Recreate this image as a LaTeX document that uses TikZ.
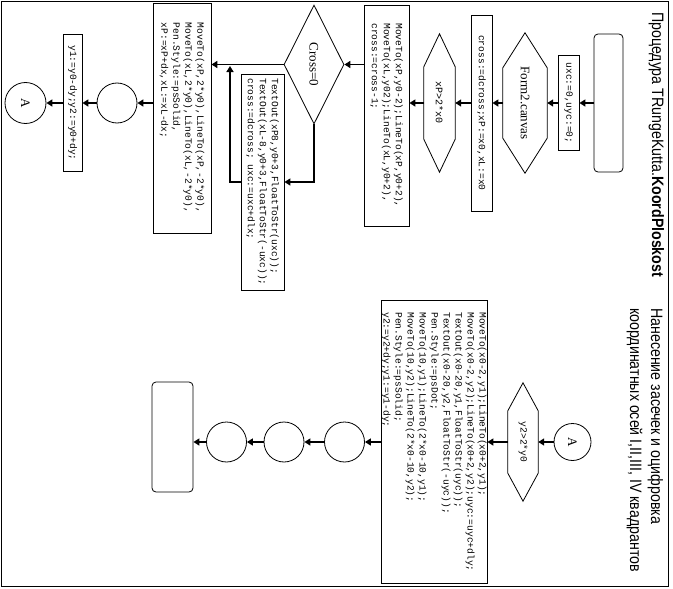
\documentclass[tikz,border=0pt]{standalone}
\usepackage{fontspec}
\setmainfont{Liberation Serif}
\newfontfamily\codefont{Liberation Mono}
\newfontfamily\titlefont[FakeStretch=0.86]{Liberation Sans}
\usetikzlibrary{shapes.geometric,arrows.meta,calc}
\newcommand\hexdraw[2]{\draw[line width=0.8pt] (#1.west) -- ($(#1.north west)+(#2,0)$) -- ($(#1.north east)+(-#2,0)$) -- (#1.east) -- ($(#1.south east)+(-#2,0)$) -- ($(#1.south west)+(#2,0)$) -- cycle;}
\tikzset{
  box/.style={draw, line width=0.8pt, inner sep=0pt, align=left, font=\codefont\fontsize{9.6}{12}\selectfont},
  term/.style={draw, line width=0.8pt, rounded corners=4pt, inner sep=0pt},
  hexn/.style={inner sep=0pt},
  circ/.style={circle, draw, line width=0.8pt, minimum size=40, inner sep=0pt, font=\fontsize{13}{13}\selectfont},
  titlef/.style={inner sep=0pt, font=\titlefont\fontsize{16.5}{20}\selectfont},
  arr/.style={line width=1.8pt, -{Triangle[length=6pt,width=7pt]}}
}
\begin{document}
\begin{tikzpicture}[x=1pt,y=1pt]
\useasboundingbox (0,0) rectangle (673,-589);
\draw[line width=1pt] (1.5,-1.5) rectangle (668.5,-586);
\begin{scope}[rotate=-90, transform shape]
% titles
\node[titlef, anchor=base west] (ti1) at (12,652) {Процедура TRungeKutta.\textbf{KoordPloskost}};
\node[titlef, anchor=base west] (ti2) at (308,651) {Нанесение засечек и оцифровка};
\node[titlef, anchor=base west] (ti3) at (308,630) {координатных осей I,II,III, IV квадрантов};
% top flow
\node[term, minimum width=138, minimum height=29] (t1) at (103,608.5) {};
\node[box, minimum width=95, minimum height=21] (b1) at (103,568.5) {uxc:=0,uyc:=0;};
\node[hexn, minimum width=140, minimum height=44, font=\fontsize{13}{13}\selectfont] (h1) at (103,525) {Form2.canvas};
\hexdraw{h1}{35}
\node[box, minimum width=196, minimum height=21] (b2) at (113,481.5) {cross:=dcross;xP:=x0,xL:=x0};
\node[hexn, minimum width=138, minimum height=31, font=\codefont\fontsize{10}{12}\selectfont] (h2) at (103,439.5) {xP>2*x0};
\hexdraw{h2}{33}
\node[box, minimum width=221, minimum height=45] (b3) at (115.5,386.5) {MoveTo(xP,y0-2);LineTo(xP,y0+2),\\MoveTo(xL,y02);LineTo(xL,y0+2),\\cross:=cross-1;};
\node[diamond, draw, line width=0.8pt, minimum width=119, minimum height=60, inner sep=0pt, font=\fontsize{13}{13}\selectfont] (d) at (64.5,314) {Cross=0};
\node[box, minimum width=216, minimum height=43] (b4) at (182,262.5) {TextOut(xP8,y0+3,FloatToStr(uxc));\\TextOut(xL-8,y0+3,FloatToStr(-uxc));\\cross:=dcross; uxc:=uxc+dlx;};
\node[box, minimum width=230, minimum height=58] (b5) at (118,182) {MoveTo(xP,2*y0),LineTo(xP,-2*y0),\\MoveTo(xL,2*y0),LineTo(xL,-2*y0),\\Pen.Style:=psSolid,\\xP:=xP+dx,xL:=xL-dx;};
\node[circ] (c1) at (103,117) {};
\node[box, minimum width=137, minimum height=19] (b6) at (103,72.5) {y1:=y0-dy;y2:=y0+dy;};
\node[circ, minimum size=41] (ca1) at (103,25.5) {A};
\coordinate (j) at (66,230);
% bottom flow
\node[circ, minimum size=37] (ca2) at (442,572.5) {A};
\node[hexn, minimum width=118, minimum height=30, font=\codefont\fontsize{9.6}{12}\selectfont] (h3) at (442,523) {y2>2*y0};
\hexdraw{h3}{28}
\node[box, minimum width=283, minimum height=106] (b7) at (442,434) {MoveTo(x0-2,y1);LineTo(x0+2,y1);\\MoveTo(x0-2,y2);LineTo(x0+2,y2);uyc:=uyc+dly;\\TextOut(x0-20,y1,FloatToStr(uyc));\\TextOut(x0-20,y2,FloatToStr(-uyc));\\Pen.Style:=psDot;\\MoveTo(10,y1);LineTo(2*x0-10,y1);\\MoveTo(10,y2);LineTo(2*x0-10,y2);\\Pen.Style:=psSolid;\\y2:=y2+dy;y1:=y1-dy;};
\node[circ] (c2) at (442,344.5) {};
\node[circ] (c3) at (442,284) {};
\node[circ] (c4) at (442,226.5) {};
\node[term, minimum width=110, minimum height=41] (t2) at (437,172.5) {};
\end{scope}
% connectors (top)
\draw[arr] (t1.south) -- (b1.north);
\draw[arr] (b1.south) -- (h1.north);
\draw[arr] (h1.south) -- (b2.north |- h1.south);
\draw[arr] (b2.south |- h2.north) -- (h2.north);
\draw[arr] (h2.south) -- (b3.north |- h2.south);
\draw[arr] (b3.south |- d.north) -- (d.north);
\draw[arr] (d.south) -- (b5.north |- d.south);
\draw[arr] (d.east) |- (b4.north);
\draw[arr] (b4.south) -| (j);
\draw[arr] (b5.south |- c1.north) -- (c1.north);
\draw[arr] (c1.south) -- (b6.north);
\draw[arr] (b6.south) -- (ca1.north);
% connectors (bottom)
\draw[arr] (ca2.south) -- (h3.north);
\draw[arr] (h3.south) -- (b7.north);
\draw[arr] (b7.south) -- (c2.north);
\draw[arr] (c2.south) -- (c3.north);
\draw[arr] (c3.south) -- (c4.north);
\draw[arr] (c4.south) -- (t2.north |- c4.south);
\end{tikzpicture}
\end{document}
